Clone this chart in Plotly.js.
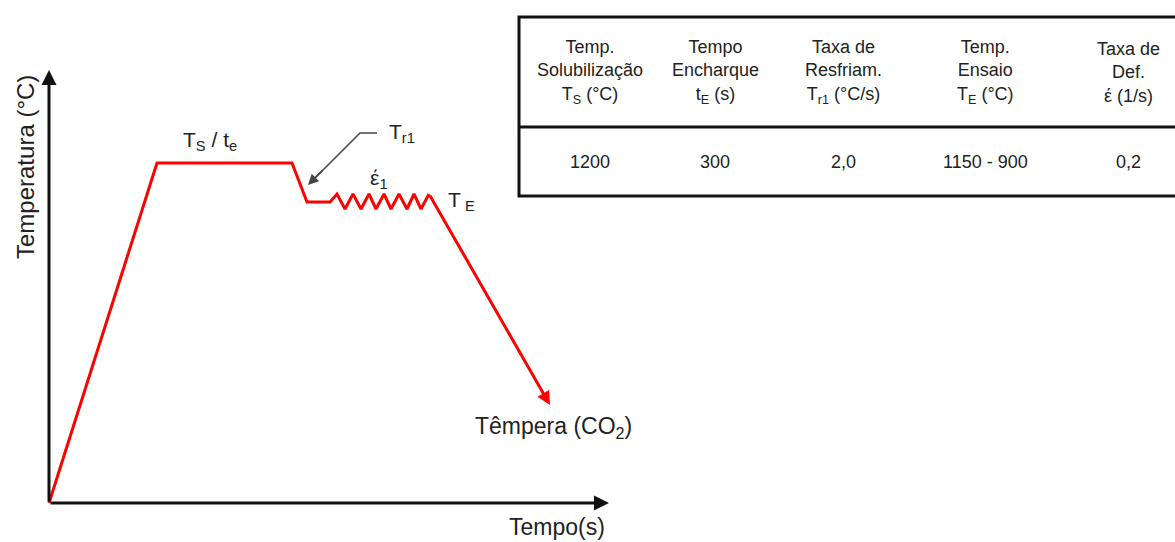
<!DOCTYPE html>
<html>
<head>
<meta charset="utf-8">
<script src="https://cdn.plot.ly/plotly-3.0.1.min.js"></script>
<style>html,body{margin:0;padding:0;background:#fff;}#chart{width:1175px;height:542px;}</style>
</head>
<body>
<div id="chart"></div>
<script>
// Schematic thermal cycle (arbitrary units: time vs temperature)
var time = [0, 108, 243, 258, 281, 288, 296, 304, 312, 320, 327, 335, 342, 350, 358, 365, 372, 380, 501];
var temp = [0, 340, 340, 301, 301, 309, 294, 309, 294, 309, 294, 309, 294, 309, 294, 309, 294, 309, 98];

// Table content
var tableHeaders = [
  "Temp.<br>Solubilização<br>T<sub>S</sub> (°C)",
  "Tempo<br>Encharque<br>t<sub>E</sub> (s)",
  "Taxa de<br>Resfriam.<br>T<sub>r1</sub> (°C/s)",
  "Temp.<br>Ensaio<br>T<sub>E</sub> (°C)",
  "Taxa de<br>Def.<br>έ (1/s)"
];
var tableValues = ["1200", "300", "2,0", "1150 - 900", "0,2"];

// Curve labels
var stageLabels = ["T<sub>S</sub> / t<sub>e</sub>", "T<sub>r1</sub>", "έ<sub>1</sub>", "T<sub> E</sub>", "Têmpera (CO<sub>2</sub>)"];
var axisLabels = {x: "Tempo(s)", y: "Temperatura (°C)"};

var FONT = "Liberation Sans, Arial, sans-serif";
var n = time.length;

var traces = [{
  x: time.slice(0, n - 1),
  y: temp.slice(0, n - 1),
  mode: "lines",
  line: {color: "#ff0000", width: 3, shape: "linear"},
  hoverinfo: "skip",
  showlegend: false
}];

var colX = [541, 666, 794, 936, 1079];
var annotations = [];

// axis arrows
annotations.push({x: 0, y: 433, ax: 0, ay: 0, xref: "x", yref: "y", axref: "x", ayref: "y",
  text: "", showarrow: true, arrowhead: 2, arrowsize: 1, arrowwidth: 3, arrowcolor: "#111"});
annotations.push({x: 560, y: 0, ax: 0, ay: 0, xref: "x", yref: "y", axref: "x", ayref: "y",
  text: "", showarrow: true, arrowhead: 2, arrowsize: 1, arrowwidth: 3, arrowcolor: "#111"});
// red end arrow (quench)
annotations.push({x: time[n - 1], y: temp[n - 1], ax: time[n - 2], ay: temp[n - 2],
  xref: "x", yref: "y", axref: "x", ayref: "y",
  text: "", showarrow: true, arrowhead: 2, arrowsize: 0.9, arrowwidth: 3, arrowcolor: "#ff0000"});
// grey pointer head for Tr1
annotations.push({x: 259, y: 318, ax: 275, ay: 334, xref: "x", yref: "y", axref: "x", ayref: "y",
  text: "", showarrow: true, arrowhead: 2, arrowsize: 1.4, arrowwidth: 1.5, arrowcolor: "#444"});

// axis labels
annotations.push({x: 558, y: -24, xref: "x", yref: "y", text: axisLabels.x, showarrow: false,
  xanchor: "right", yanchor: "middle", font: {family: FONT, size: 23, color: "#222"}});
annotations.push({x: -24, y: 336, xref: "x", yref: "y", text: axisLabels.y, showarrow: false,
  textangle: -90, xanchor: "center", yanchor: "middle", font: {family: FONT, size: 24, color: "#222"}});

// stage labels
var labelPos = [[132, 362], [338, 370], [319, 324], [397, 302], [424, 76]];
var labelSize = [21, 21, 21, 21, 23];
stageLabels.forEach(function (t, i) {
  annotations.push({x: labelPos[i][0], y: labelPos[i][1], xref: "x", yref: "y", text: t,
    showarrow: false, xanchor: "left", yanchor: "middle",
    font: {family: FONT, size: labelSize[i], color: "#222"}});
});

// table text
tableHeaders.forEach(function (h, i) {
  annotations.push({x: colX[i], y: 431, xref: "x", yref: "y", text: h, showarrow: false,
    xanchor: "center", yanchor: "middle", align: "center",
    font: {family: FONT, size: 18, color: "#222"}});
  annotations.push({x: colX[i], y: 341, xref: "x", yref: "y", text: tableValues[i], showarrow: false,
    xanchor: "center", yanchor: "middle", font: {family: FONT, size: 18, color: "#222"}});
});

var shapes = [
  {type: "path", xref: "x", yref: "y", path: "M 328 370 L 311 370 L 262 321", line: {color: "#444", width: 1.5}},
  {type: "rect", xref: "x", yref: "y", x0: 470, y0: 307, x1: 1140, y1: 486, line: {color: "#111", width: 3}},
  {type: "line", xref: "x", yref: "y", x0: 470, y0: 376, x1: 1140, y1: 376, line: {color: "#111", width: 3}}
];

var layout = {
  width: 1175, height: 542,
  margin: {l: 0, r: 0, t: 0, b: 0},
  paper_bgcolor: "#ffffff", plot_bgcolor: "#ffffff",
  xaxis: {range: [-49, 1126], visible: false, fixedrange: true},
  yaxis: {range: [-39, 503], visible: false, fixedrange: true},
  showlegend: false,
  annotations: annotations,
  shapes: shapes
};

Plotly.newPlot("chart", traces, layout, {displayModeBar: false, staticPlot: true});
</script>
</body>
</html>
